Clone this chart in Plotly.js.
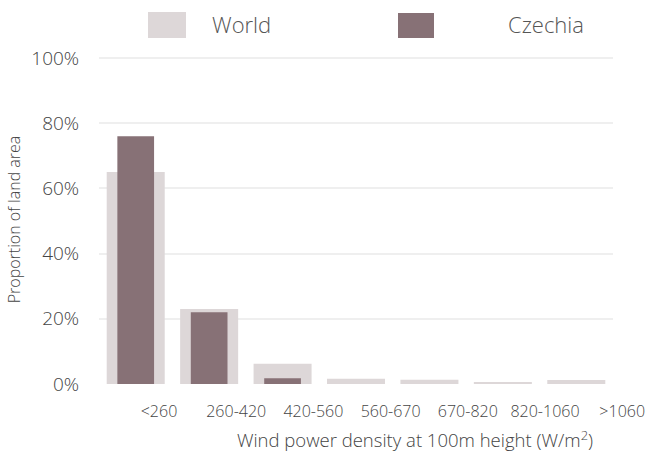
<!DOCTYPE html>
<html>
<head>
<meta charset="utf-8">
<script src="https://cdn.plot.ly/plotly-3.0.1.min.js"></script>
<style>html,body{margin:0;padding:0;background:#fff;}#chart{width:656px;height:459px;}</style>
</head>
<body>
<div id="chart"></div>
<script>
var categories = ["<260", "260-420", "420-560", "560-670", "670-820", "820-1060", ">1060"];
var worldValues = [65, 23, 6.2, 1.6, 1.3, 0.6, 1.2];
var czechiaValues = [76, 22, 1.8, 0, 0, 0, 0];
var seriesNames = ["World", "Czechia"];
var yTickVals = [0, 20, 40, 60, 80, 100];
var yTickText = ["0%", "20%", "40%", "60%", "80%", "100%"];

var W = 656, H = 459;
var L = 99, R = 10, T = 55, B = 75;
var pw = W - L - R, ph = H - T - B;
function px(x) { return (x - L) / pw; }
function py(y) { return (H - B - y) / ph; }

var FONT = "Open Sans, Lato, sans-serif";
var TXT = "#444";
var worldColor = "#ddd7d8", czColor = "#877176";
var nulls = categories.map(function(){return null;});

var traces = [
  {type: "bar", x: categories, y: worldValues, name: seriesNames[0], width: 0.79,
   marker: {color: worldColor}, xaxis: "x", yaxis: "y", showlegend: false, hoverinfo: "x+y"},
  {type: "bar", x: categories, y: czechiaValues, name: seriesNames[1], width: 0.5,
   marker: {color: czColor}, xaxis: "x", yaxis: "y", showlegend: false, hoverinfo: "x+y"},
  {type: "bar", x: categories, y: nulls, xaxis: "x2", yaxis: "y2", showlegend: false, hoverinfo: "skip"},
  {type: "bar", x: categories, y: nulls, xaxis: "x3", yaxis: "y2", showlegend: false, hoverinfo: "skip"}
];

var barRight = 613;
var yTop = 100 * (H - B - T) / (H - B - 58);
var layout = {
  width: W, height: H,
  margin: {l: L, r: R, t: T, b: B, pad: 0},
  paper_bgcolor: "#fff", plot_bgcolor: "rgba(0,0,0,0)",
  barmode: "overlay",
  font: {family: FONT, color: TXT, weight: 300},
  showlegend: false,
  xaxis: {type: "category", categoryarray: categories, range: [-0.5, 6.5],
          domain: [0, px(barRight)], showticklabels: false, showgrid: false, zeroline: false,
          showline: false, ticks: "", fixedrange: true},
  yaxis: {range: [0, yTop], tickvals: yTickVals, ticktext: yTickText, showgrid: true,
          gridcolor: "#efefef", gridwidth: 2, zeroline: false, showline: false,
          ticks: "outside", ticklen: 15, tickcolor: "rgba(0,0,0,0)",
          tickfont: {size: 19, family: FONT, color: TXT, weight: 300},
          title: {text: "Proportion of land area", standoff: 6,
                  font: {size: 16, family: FONT, color: TXT, weight: 300}}},
  xaxis2: {type: "category", categoryarray: categories,
           range: [(L - 159) / 77.2, (W - R - 159) / 77.2],
           domain: [0, 1], anchor: "y2", showgrid: false, zeroline: false, showline: false,
           ticks: "outside", ticklen: 13, tickcolor: "rgba(0,0,0,0)",
           tickfont: {size: 16, family: FONT, color: TXT, weight: 300}},
  yaxis2: {domain: [0, 1], anchor: "x2", visible: false, range: [0, 100], showgrid: false},
  xaxis3: {type: "category", categoryarray: categories, domain: [px(184), 1], anchor: "y2",
           showgrid: false, zeroline: false, showline: false, showticklabels: false, ticks: "",
           title: {text: "Wind power density at 100m height (W/m<sup>2</sup>)", standoff: 50,
                   font: {size: 18.5, family: FONT, color: TXT, weight: 300}}},
  shapes: [
    {type: "rect", xref: "paper", yref: "paper", x0: px(148), x1: px(186), y0: py(38), y1: py(12),
     fillcolor: worldColor, line: {width: 0}},
    {type: "rect", xref: "paper", yref: "paper", x0: px(398), x1: px(434), y0: py(38), y1: py(13),
     fillcolor: czColor, line: {width: 0}}
  ],
  annotations: [
    {xref: "paper", yref: "paper", x: px(210), y: py(24), xanchor: "left", yanchor: "middle",
     text: seriesNames[0], showarrow: false, font: {size: 22, family: FONT, color: "#555", weight: 300}},
    {xref: "paper", yref: "paper", x: px(506), y: py(24), xanchor: "left", yanchor: "middle",
     text: seriesNames[1], showarrow: false, font: {size: 22, family: FONT, color: "#555", weight: 300}}
  ]
};

Plotly.newPlot("chart", traces, layout, {displayModeBar: false, staticPlot: true});
</script>
</body>
</html>
